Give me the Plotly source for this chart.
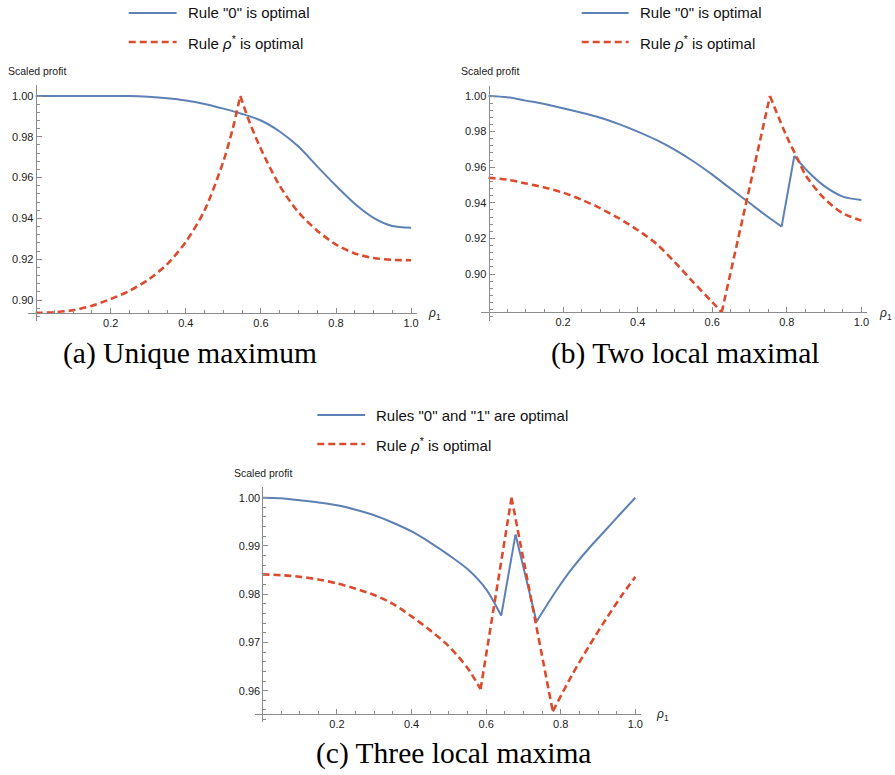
import plotly.graph_objects as go
import numpy as np

W, H = 895, 775

# ---------------- data ----------------
# (a) Unique maximum
a_blue_x = [0, 0.05, 0.1, 0.15, 0.2, 0.25, 0.3, 0.35, 0.4, 0.45, 0.5, 0.55, 0.6, 0.65, 0.7, 0.75, 0.8, 0.85, 0.9, 0.95, 1.0]
a_blue_y = [1.0, 1.0, 1.0, 1.0, 1.0, 1.0, 0.9996, 0.9989, 0.9978, 0.9961, 0.9938, 0.9912, 0.9880, 0.9826, 0.9752, 0.9655, 0.9560, 0.9472, 0.9403, 0.9363, 0.9354]
a_red_x = [0, 0.05, 0.1, 0.15, 0.2, 0.25, 0.3, 0.35, 0.4, 0.45, 0.5, 0.525, 0.545, 0.57, 0.6, 0.65, 0.7, 0.75, 0.8, 0.85, 0.9, 0.95, 1.0]
a_red_y = [0.8937, 0.8940, 0.8950, 0.8972, 0.9005, 0.9045, 0.9100, 0.9175, 0.9285, 0.9440, 0.9680, 0.9840, 1.0, 0.9870, 0.9740, 0.9560, 0.9430, 0.9340, 0.9272, 0.9228, 0.9206, 0.9197, 0.9195]
a_blue_kinks = []
a_red_kinks = [0.545]

# (b) Two local maximal
b_blue_x = [0, 0.05, 0.1, 0.15, 0.2, 0.25, 0.3, 0.35, 0.4, 0.45, 0.5, 0.55, 0.6, 0.65, 0.7, 0.75, 0.786, 0.82, 0.85, 0.9, 0.95, 1.0]
b_blue_y = [1.0, 0.9993, 0.9974, 0.9955, 0.9931, 0.9906, 0.9878, 0.9842, 0.9800, 0.9753, 0.9697, 0.9632, 0.9558, 0.9478, 0.9399, 0.9320, 0.9266, 0.9663, 0.9590, 0.9495, 0.9435, 0.9416]
b_red_x = [0, 0.05, 0.1, 0.15, 0.2, 0.25, 0.3, 0.35, 0.4, 0.45, 0.5, 0.55, 0.6, 0.6254, 0.7548, 0.8, 0.8305, 0.85, 0.9, 0.95, 1.0]
b_red_y = [0.9541, 0.9530, 0.9509, 0.9486, 0.9457, 0.9417, 0.9369, 0.9312, 0.9247, 0.9170, 0.9065, 0.8952, 0.8842, 0.8785, 1.0, 0.9771, 0.9640, 0.9556, 0.9425, 0.9341, 0.9300]
b_blue_kinks = [0.786, 0.82]
b_red_kinks = [0.6254, 0.7548]

# (c) Three local maxima
c_blue_x = [0, 0.05, 0.1, 0.15, 0.2, 0.25, 0.3, 0.35, 0.4, 0.45, 0.5, 0.55, 0.6, 0.6403, 0.6787, 0.7349, 0.786, 0.8306, 0.8752, 0.9198, 0.9644, 1.0]
c_blue_y = [1.0, 0.99988, 0.99945, 0.9990, 0.99842, 0.9975, 0.99635, 0.9948, 0.9930, 0.9907, 0.9881, 0.9852, 0.9810, 0.97556, 0.99236, 0.97432, 0.98052, 0.98534, 0.98947, 0.99325, 0.99704, 1.0]
c_red_x = [0, 0.05, 0.1, 0.15, 0.2, 0.25, 0.3, 0.35, 0.4, 0.45, 0.5, 0.55, 0.5851, 0.6680, 0.7786, 0.8306, 0.8752, 0.9198, 0.9644, 1.0]
c_red_y = [0.98410, 0.98395, 0.98361, 0.98305, 0.98224, 0.98115, 0.97983, 0.97800, 0.97540, 0.9725, 0.9692, 0.9647, 0.96034, 1.0, 0.95573, 0.96330, 0.96916, 0.97466, 0.97983, 0.98361]
c_blue_kinks = [0.6403, 0.6787, 0.7349]
c_red_kinks = [0.5851, 0.6680, 0.7786]

# tick labels
x_tickvals = [0.2, 0.4, 0.6, 0.8, 1.0]
x_ticktext = ["0.2", "0.4", "0.6", "0.8", "1.0"]
ab_tickvals = [0.90, 0.92, 0.94, 0.96, 0.98, 1.00]
ab_ticktext = ["0.90", "0.92", "0.94", "0.96", "0.98", "1.00"]
c_tickvals = [0.96, 0.97, 0.98, 0.99, 1.00]
c_ticktext = ["0.96", "0.97", "0.98", "0.99", "1.00"]

legend_blue = ['Rule "0" is optimal', 'Rule "0" is optimal', 'Rules "0" and "1" are optimal']
legend_red = ['Rule <i>ρ</i><sup>*</sup> is optimal'] * 3
captions = ["(a) Unique maximum", "(b) Two local maximal", "(c) Three local maxima"]

# ---------------- styling ----------------
BLUE = "#5E81B5"
RED = "#DC4B2D"
AX = "#8c8c8c"
TXT = "#222222"
SANS = "Liberation Sans, Arial, sans-serif"
SERIF = "Liberation Serif, Times New Roman, serif"


def fx(px):
    return px / W


def fy(py):
    return 1 - py / H


def segments(xs, ys, kinks):
    """Split a series at its kink points (shared endpoints)."""
    segs, cur_x, cur_y = [], [], []
    for x, y in zip(xs, ys):
        cur_x.append(x)
        cur_y.append(y)
        if x in kinks:
            segs.append((cur_x, cur_y))
            cur_x, cur_y = [x], [y]
    if len(cur_x) > 1:
        segs.append((cur_x, cur_y))
    return segs


# pixel geometry of each panel: px of x=0, px per unit x, py of y=1, py per unit y
panels = [
    dict(x0=35.75, xu=376.25, y1=96.0, yu=2040.0, xr=[-0.02, 1.016], yr=[0.8895, 1.0054], yaxisval=0.8938,
         bx=a_blue_x, by=a_blue_y, bk=a_blue_kinks, rx=a_red_x, ry=a_red_y, rk=a_red_kinks,
         tv=ab_tickvals, tt=ab_ticktext, minor=0.004,
         leg=(129, 177, 186, 13, 42), sp=(6, 71), rho=(427, 314), cap=(190, 353)),
    dict(x0=489.6, xu=373.75, y1=96.0, yu=1780.0, xr=[-0.02, 1.016], yr=[0.8736, 1.0056], yaxisval=0.8785,
         bx=b_blue_x, by=b_blue_y, bk=b_blue_kinks, rx=b_red_x, ry=b_red_y, rk=b_red_kinks,
         tv=ab_tickvals, tt=ab_ticktext, minor=0.004,
         leg=(583, 630, 639, 13, 42), sp=(460, 71), rho=(879, 314), cap=(687, 353)),
    dict(x0=263.0, xu=373.75, y1=497.7, yu=4825.0, xr=[-0.02, 1.016], yr=[0.9535, 1.0022], yaxisval=0.9552,
         bx=c_blue_x, by=c_blue_y, bk=c_blue_kinks, rx=c_red_x, ry=c_red_y, rk=c_red_kinks,
         tv=c_tickvals, tt=c_ticktext, minor=0.002,
         leg=(318, 366, 375, 415, 444), sp=(233, 473), rho=(655, 715), cap=(455, 753)),
]

fig = go.Figure()
shapes = []
annotations = []
layout = {}

for i, p in enumerate(panels):
    sfx = "" if i == 0 else str(i + 1)
    xname, yname = "x" + sfx, "y" + sfx
    left = p["x0"] + p["xr"][0] * p["xu"]
    right = p["x0"] + p["xr"][1] * p["xu"]
    top = p["y1"] + (1 - p["yr"][1]) * p["yu"]
    bottom = p["y1"] + (1 - p["yr"][0]) * p["yu"]
    xaxis_py = p["y1"] + (1 - p["yaxisval"]) * p["yu"]

    for sx, sy in segments(p["bx"], p["by"], p["bk"]):
        fig.add_trace(go.Scatter(x=sx, y=sy, mode="lines", xaxis=xname, yaxis=yname,
                                 line=dict(color=BLUE, width=2, shape="spline", smoothing=0.8),
                                 showlegend=False, hoverinfo="skip"))
    for sx, sy in segments(p["rx"], p["ry"], p["rk"]):
        fig.add_trace(go.Scatter(x=sx, y=sy, mode="lines", xaxis=xname, yaxis=yname,
                                 line=dict(color=RED, width=2.6, dash="7px,4px", shape="spline", smoothing=0.8),
                                 showlegend=False, hoverinfo="skip"))

    ymin_minor = np.round(np.arange(p["yr"][0], p["yr"][1], p["minor"]) / p["minor"]) * p["minor"]
    ymin_minor = [v for v in np.unique(np.round(ymin_minor, 4)) if p["yr"][0] <= v <= p["yr"][1]]
    xmin_minor = [round(v, 2) for v in np.arange(0.05, 1.001, 0.05)]

    layout["xaxis" + sfx] = dict(
        domain=[fx(left), fx(right)], range=p["xr"], anchor="free", position=fy(xaxis_py),
        showgrid=False, zeroline=False, showline=True, linecolor=AX, linewidth=1,
        ticks="inside", ticklen=5, tickcolor=AX, tickwidth=1,
        tickmode="array", tickvals=x_tickvals, ticktext=x_ticktext,
        tickfont=dict(family=SANS, size=11, color=TXT),
        minor=dict(tickmode="array", tickvals=xmin_minor, ticks="inside", ticklen=3, tickcolor=AX, showgrid=False),
        fixedrange=True,
    )
    layout["yaxis" + sfx] = dict(
        domain=[fy(bottom), fy(top)], range=p["yr"], anchor="free", position=fx(p["x0"]),
        showgrid=False, zeroline=False, showline=True, linecolor=AX, linewidth=1,
        ticks="inside", ticklen=5, tickcolor=AX, tickwidth=1,
        tickmode="array", tickvals=p["tv"], ticktext=p["tt"],
        tickfont=dict(family=SANS, size=11, color=TXT),
        minor=dict(tickmode="array", tickvals=ymin_minor, ticks="inside", ticklen=3, tickcolor=AX, showgrid=False),
        fixedrange=True,
    )

    lx0, lx1, tx, ly1, ly2 = p["leg"]
    shapes.append(dict(type="line", xref="paper", yref="paper", x0=fx(lx0), x1=fx(lx1), y0=fy(ly1), y1=fy(ly1),
                       line=dict(color=BLUE, width=2)))
    shapes.append(dict(type="line", xref="paper", yref="paper", x0=fx(lx0), x1=fx(lx1), y0=fy(ly2), y1=fy(ly2),
                       line=dict(color=RED, width=2.6, dash="7px,4px")))
    annotations.append(dict(text=legend_blue[i], x=fx(tx), y=fy(ly1), xref="paper", yref="paper",
                            xanchor="left", yanchor="middle", showarrow=False,
                            font=dict(family=SANS, size=15, color="#111")))
    annotations.append(dict(text=legend_red[i], x=fx(tx), y=fy(ly2), xref="paper", yref="paper",
                            xanchor="left", yanchor="middle", showarrow=False,
                            font=dict(family=SANS, size=15, color="#111")))
    annotations.append(dict(text="Scaled profit", x=fx(p["sp"][0]), y=fy(p["sp"][1]), xref="paper", yref="paper",
                            xanchor="left", yanchor="middle", showarrow=False,
                            font=dict(family=SANS, size=10.5, color=TXT)))
    annotations.append(dict(text="<i>ρ</i><sub>1</sub>", x=fx(p["rho"][0]), y=fy(p["rho"][1]), xref="paper", yref="paper",
                            xanchor="left", yanchor="middle", showarrow=False,
                            font=dict(family=SANS, size=12, color=TXT)))
    annotations.append(dict(text=captions[i], x=fx(p["cap"][0]), y=fy(p["cap"][1]), xref="paper", yref="paper",
                            xanchor="center", yanchor="middle", showarrow=False,
                            font=dict(family=SERIF, size=29.5, color="#000")))

fig.update_layout(
    width=W, height=H, margin=dict(l=0, r=0, t=0, b=0),
    paper_bgcolor="white", plot_bgcolor="white",
    shapes=shapes, annotations=annotations, showlegend=False,
    **layout,
)

fig.write_html(
    "out.html",
    config={"displayModeBar": False},
    post_script="document.body.style.margin='0px';document.body.style.padding='0px';"
                "document.documentElement.style.overflow='hidden';",
)
